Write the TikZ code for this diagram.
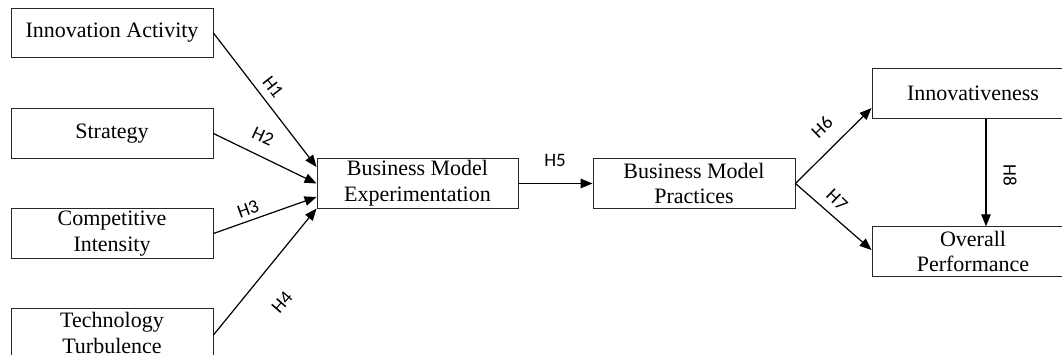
\documentclass[tikz,border=0pt]{standalone}
\usepackage{fontspec}
\setmainfont{Liberation Serif}
\newfontfamily\lblfont{Carlito}
\usetikzlibrary{arrows.meta,calc}
\tikzset{
  box/.style={draw=black!85, line width=0.9bp, minimum width=202bp, minimum height=49.5bp,
    inner sep=0pt, align=center, font=\fontsize{22bp}{25.7bp}\selectfont},
  arr/.style={line width=1.2bp, -{Triangle[length=12bp,width=9.5bp]}},
  hl/.style={font=\lblfont\fontsize{19bp}{20bp}\selectfont, inner sep=0pt}
}
\begin{document}
\begin{tikzpicture}[x=1bp,y=-1bp]
\useasboundingbox (0,0) rectangle (1062,354);
\node[box] (ia) at (112,33) {Innovation Activity};
\node[box] (st) at (112,133.5) {Strategy};
\node[box] (ci) at (112,233.5) {Competitive\\Intensity};
\node[box] (tt) at (112,333) {Technology\\Turbulence};
\node[box, minimum width=201bp] (bme) at (417.5,183.5) {Business Model\\Experimentation};
\node[box] (bmp) at (694,183.5) {Business Model\\Practices};
\node[box] (inn) at (973,93.5) {Innovativeness};
\node[box] (op) at (973,251.5) {Overall\\Performance};
\coordinate (h8x) at (986,0);

\draw[arr] (ia.east) -- ($(bme.west)+(0,-16.5)$);
\draw[arr] (st.east) -- (bme.west);
\draw[arr] (ci.east) -- ($(bme.west)+(0,13.5)$);
\draw[arr] ($(tt.east)+(0,2)$) -- ($(bme.west)+(0,25)$);
\draw[arr] (bme.east) -- (bmp.west);
\draw[arr] (bmp.east) -- ($(inn.west)+(0,14.5)$);
\draw[arr] (bmp.east) -- ($(op.west)+(0,-1.5)$);
\draw[arr] (inn.south -| h8x) -- (op.north -| h8x);

\node[hl, rotate=-52] (l1) at (273,87) {H1};
\node[hl, rotate=-25] (l2) at (263,136) {H2};
\node[hl, rotate=20] (l3) at (248,209) {H3};
\node[hl, rotate=49] (l4) at (282,302) {H4};
\node[hl] (l5) at (555,160) {H5};
\node[hl, rotate=44] (l6) at (822,127) {H6};
\node[hl, rotate=-44] (l7) at (837,200) {H7};
\node[hl, rotate=-90] (l8) at (1010,175) {H8};
\end{tikzpicture}
\end{document}
